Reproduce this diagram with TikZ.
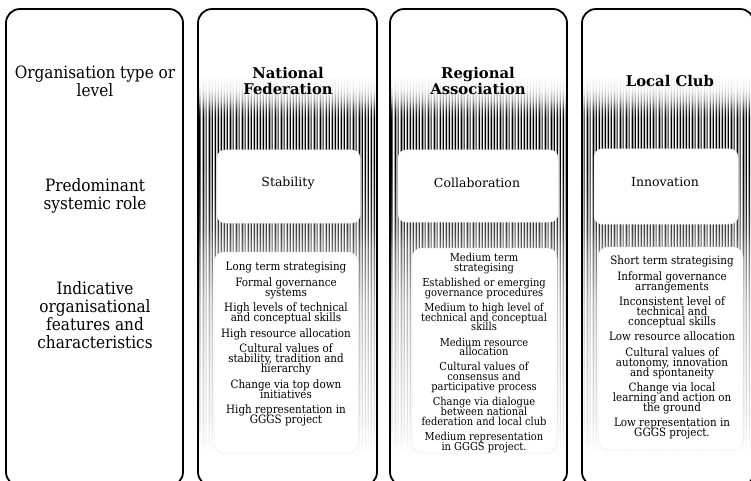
\documentclass[tikz,border=0pt]{standalone}
\usepackage{fontspec}
\setmainfont{DejaVu Serif Condensed}
\newfontfamily\headfont{DejaVu Serif}
\newcommand\tightls{\lineskiplimit -20pt\relax}
\pgfdeclareverticalshading{stripefade}{100bp}{color(0bp)=(white); color(25bp)=(white); color(29.6bp)=(black!10); color(38.8bp)=(black!20); color(45.4bp)=(black!30); color(52bp)=(black!55); color(54.6bp)=(black!75); color(58.5bp)=(black!88); color(63.8bp)=(black); color(69.3bp)=(black); color(70.4bp)=(black!80); color(71.7bp)=(black!35); color(73bp)=(black!10); color(75bp)=(white); color(100bp)=(white)}
\begin{document}
\begin{tikzpicture}[x=1pt,y=-1pt,
  colframe/.style={draw=black, line width=1.8pt, rounded corners=14pt},
  rolebox/.style={fill=white, draw=black!6, line width=0.5pt, rounded corners=8pt, inner sep=0pt},
  featbox/.style={fill=white, draw=black!8, line width=0.5pt, rounded corners=10pt, inner sep=0pt},
  leftlabel/.style={align=center, font=\fontsize{17}{18}\selectfont\tightls, inner sep=0pt},
  headlabel/.style={align=center, font=\headfont\bfseries\fontsize{14.8}{16}\selectfont\tightls, inner sep=0pt},
  rolelabel/.style={font=\headfont\fontsize{12.5}{14}\selectfont, inner sep=0pt},
  featlabel/.style={align=center, font=\fontsize{11.5}{10}\selectfont\tightls, inner sep=0pt, anchor=north},
  featlabelb/.style={featlabel, font=\fontsize{11}{9.8}\selectfont\tightls}
]
\useasboundingbox (0,0) rectangle (751,481);

% striped fading backgrounds
\foreach \l/\r in {198/377, 390/567, 582/754}{
  \begin{scope}
    \clip[rounded corners=14pt] (\l,9) rectangle (\r,486);
    \shade[shading=stripefade] foreach \s in {0,...,60} { ({\l+1.5+3*\s},75) rectangle ++({1.0+0.8*abs(sin(\s*97))},380) };
  \end{scope}
}

% column frames
\draw[colframe] (6,9) rectangle (183,486);
\draw[colframe] (198,9) rectangle (377,486);
\draw[colframe] (390,9) rectangle (567,486);
\draw[colframe] (582,9) rectangle (754,486);

% left labels
\node[leftlabel] (l1) at (95,81) {Organisation type or\\level};
\node[leftlabel] (l2) at (95,196) {Predominant\\systemic role};
\node[leftlabel] (l3) at (95,315.5) {Indicative\\organisational\\features and\\characteristics};

% headers
\node[headlabel] (h1) at (288,80.5) {National\\Federation};
\node[headlabel] (h2) at (478,80.5) {Regional\\Association};
\node[headlabel] (h3) at (670,81) {Local Club};

% role boxes
\node[rolebox, minimum width=143pt, minimum height=73pt] (rb1) at (288.5,186.5) {};
\node[rolebox, minimum width=160pt, minimum height=72pt] (rb2) at (478,186) {};
\node[rolebox, minimum width=144pt, minimum height=75pt] (rb3) at (666,186.5) {};
\node[rolelabel] (r1) at (288,183) {Stability};
\node[rolelabel] (r2) at (477,183) {Collaboration};
\node[rolelabel] (r3) at (665,182) {Innovation};

% feature boxes
\node[featbox, minimum width=144pt, minimum height=201pt] (fb1) at (286,352.5) {};
\node[featbox, minimum width=145pt, minimum height=205pt] (fb2) at (484.5,350.5) {};
\node[featbox, minimum width=145pt, minimum height=203pt] (fb3) at (670.5,348.5) {};

\node[featlabel] (f1) at (286,262) {Long term strategising\\[5.5pt]
Formal governance\\systems\\[5.5pt]
High levels of technical\\and conceptual skills\\[5.5pt]
High resource allocation\\[5.5pt]
Cultural values of\\stability, tradition and\\hierarchy\\[5.5pt]
Change via top down\\initiatives\\[5.5pt]
High representation in\\GGGS project};

\node[featlabelb] (f2) at (484,253) {Medium term\\strategising\\[5.3pt]
Established or emerging\\governance procedures\\[5.3pt]
Medium to high level of\\technical and conceptual\\skills\\[5.3pt]
Medium resource\\allocation\\[5.3pt]
Cultural values of\\consensus and\\participative process\\[5.3pt]
Change via dialogue\\between national\\federation and local club\\[5.3pt]
Medium representation\\in GGGS project.};

\node[featlabel] (f3) at (672,256) {Short term strategising\\[5.3pt]
Informal governance\\arrangements\\[5.3pt]
Inconsistent level of\\technical and\\conceptual skills\\[5.3pt]
Low resource allocation\\[5.3pt]
Cultural values of\\autonomy, innovation\\and spontaneity\\[5.3pt]
Change via local\\learning and action on\\the ground\\[5.3pt]
Low representation in\\GGGS project.};
\end{tikzpicture}
\end{document}
